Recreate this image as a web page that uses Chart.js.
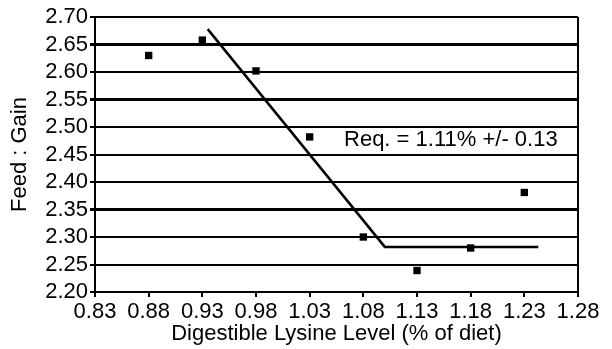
<!DOCTYPE html>
<html lang="en">
<head>
  <meta charset="UTF-8">
  <title>Feed : Gain vs Digestible Lysine Level</title>
  <script src="https://cdn.jsdelivr.net/npm/chart.js"></script>
  <style>
    body { margin: 0; background: #fff; }
  </style>
</head>
<body>
  <canvas id="lysineChart" width="612" height="349"></canvas>

  <script>
    // observed means
    const lysineLevels = [0.88, 0.93, 0.98, 1.03, 1.08, 1.13, 1.18, 1.23];
    const feedGain = [2.63, 2.658, 2.602, 2.482, 2.30, 2.239, 2.28, 2.381];

    // broken-line fit
    const fitX = [0.935, 1.10, 1.243];
    const fitY = [2.678, 2.282, 2.282];

    const xTicks = [0.83, 0.88, 0.93, 0.98, 1.03, 1.08, 1.13, 1.18, 1.23, 1.28];
    const yTicks = [2.20, 2.25, 2.30, 2.35, 2.40, 2.45, 2.50, 2.55, 2.60, 2.65, 2.70];

    const reqText = 'Req. = 1.11% +/- 0.13';
    const reqAt = { x: 1.062, y: 2.476 };

    const FONT = '"Liberation Sans", Arial, sans-serif';

    const reqLabel = {
      id: 'reqLabel',
      afterDatasetsDraw(chart) {
        const ctx = chart.ctx;
        const x = chart.scales.x.getPixelForValue(reqAt.x);
        const y = chart.scales.y.getPixelForValue(reqAt.y);
        ctx.save();
        ctx.font = '22px ' + FONT;
        ctx.fillStyle = '#000';
        ctx.textAlign = 'left';
        ctx.textBaseline = 'middle';
        ctx.fillText(reqText, x, y);
        ctx.restore();
      }
    };

    const ctx = document.getElementById('lysineChart').getContext('2d');
    new Chart(ctx, {
      type: 'scatter',
      data: {
        datasets: [{
          label: 'Feed : Gain',
          data: lysineLevels.map((x, i) => ({ x: x, y: feedGain[i] })),
          pointStyle: 'rect',
          pointRadius: 5.2,
          backgroundColor: '#000',
          borderColor: '#000',
          borderWidth: 0
        }, {
          label: 'Fit',
          data: fitX.map((x, i) => ({ x: x, y: fitY[i] })),
          showLine: true,
          pointRadius: 0,
          borderColor: '#000',
          borderWidth: 2.5,
          tension: 0
        }]
      },
      options: {
        responsive: false,
        animation: false,
        devicePixelRatio: 1,
        layout: { padding: { top: 17, right: 34, left: 0, bottom: 0 } },
        plugins: {
          legend: { display: false },
          tooltip: { enabled: false }
        },
        scales: {
          x: {
            type: 'linear',
            min: 0.83,
            max: 1.28,
            afterBuildTicks: (scale) => { scale.ticks = xTicks.map(v => ({ value: v })); },
            afterFit: (scale) => { scale.height = 57; },
            border: { display: true, color: '#000', width: 2 },
            grid: {
              color: (c) => c.index === xTicks.length - 1 ? '#000' : 'rgba(0,0,0,0)',
              lineWidth: 2,
              tickColor: '#000',
              tickLength: 5
            },
            ticks: {
              color: '#000',
              padding: 2,
              maxRotation: 0,
              autoSkip: false,
              font: { family: FONT, size: 22 },
              callback: (v) => Number(v).toFixed(2)
            },
            title: {
              display: true,
              text: 'Digestible Lysine Level (% of diet)',
              color: '#000',
              font: { family: FONT, size: 22 },
              padding: { top: 0, bottom: 2 }
            }
          },
          y: {
            min: 2.20,
            max: 2.70,
            afterBuildTicks: (scale) => { scale.ticks = yTicks.map(v => ({ value: v })); },
            afterFit: (scale) => { scale.width = 95; },
            border: { display: true, color: '#000', width: 2 },
            grid: {
              color: '#000',
              lineWidth: (c) => [2.65, 2.55, 2.35].some(v => Math.abs(c.tick.value - v) < 1e-6) ? 3 : 2,
              tickColor: '#000',
              tickLength: 5
            },
            ticks: {
              color: '#000',
              padding: 2,
              autoSkip: false,
              font: { family: FONT, size: 22 },
              callback: (v) => Number(v).toFixed(2)
            },
            title: {
              display: true,
              text: 'Feed : Gain',
              color: '#000',
              font: { family: FONT, size: 22 },
              padding: { top: 7, bottom: 0 }
            }
          }
        }
      },
      plugins: [reqLabel]
    });
  </script>
</body>
</html>
